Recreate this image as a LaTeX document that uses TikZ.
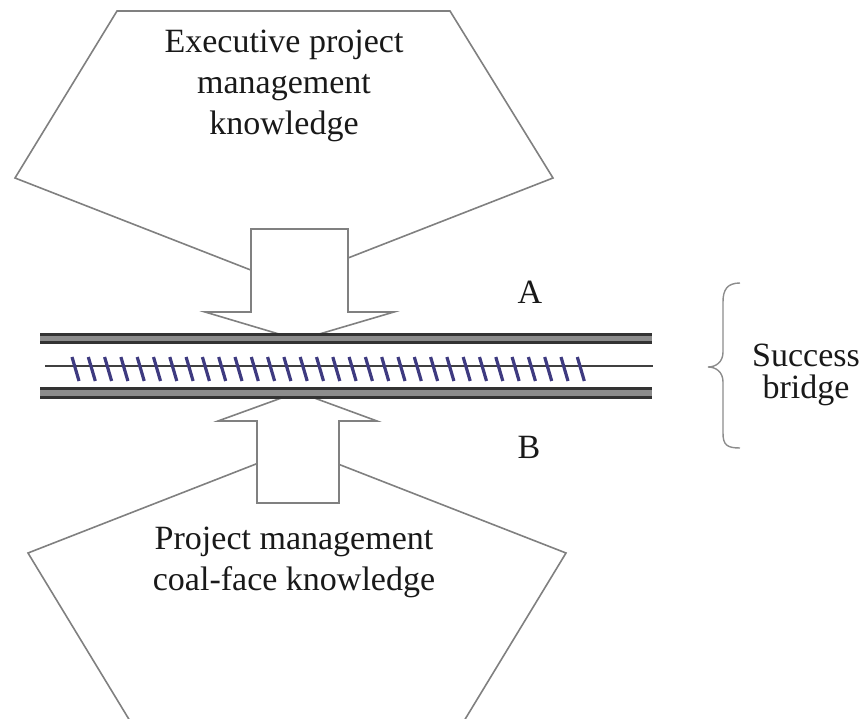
\documentclass[tikz,border=0pt]{standalone}
\usepackage{fontspec}
\setmainfont{Liberation Serif}
\definecolor{hatchnavy}{RGB}{62,58,128}
\begin{document}
\begin{tikzpicture}[x=1pt,y=-1pt,
  outline/.style={draw=black!50, line width=1.6pt, fill=white, line join=miter},
  label/.style={text=black!90, inner sep=0pt, font=\fontsize{34}{41}\selectfont, align=center},
  railedge/.style={draw=black!80, line width=2.2pt},
  hatch/.style={draw=hatchnavy, line width=3.2pt}]
\useasboundingbox (0,0) rectangle (868,719);
\clip (0,0) rectangle (868,719);

% upper pentagon and its downward arrow
\path[outline] (117,11) -- (450,11) -- (553,178) -- (284,283) -- (15,178) -- cycle;
\path[outline] (251,229) -- (348,229) -- (348,312) -- (394,312) -- (299,340)
  -- (205,312) -- (251,312) -- cycle;
\node[label] (exec) at (284,86) {Executive project\\management\\knowledge};

% lower pentagon and its upward arrow
\path[outline] (297,448) -- (566,553) -- (464,721) -- (130,721) -- (28,553) -- cycle;
\path[outline] (257,503) -- (339,503) -- (339,421) -- (377,421) -- (298,392)
  -- (218,421) -- (257,421) -- cycle;
\node[label] (coal) at (294,562) {Project management\\coal-face knowledge};

% the bridge: two rails and the hatched middle line
\fill[black!45] (40,334) rectangle (652,343);
\draw[railedge] (40,334.5) -- (652,334.5);
\draw[railedge] (40,342.5) -- (652,342.5);
\fill[black!45] (40,388) rectangle (652,398);
\draw[railedge] (40,388.5) -- (652,388.5);
\draw[railedge] (40,397.5) -- (652,397.5);
\draw[black!75, line width=1.5pt] (45,366) -- (653,366);
\foreach \i in {0,...,31}{
  \draw[hatch] ({72+16.3*\i},357) -- ({79+16.3*\i},381);
}

% side labels
\node[label] (a) at (530,292) {A};
\node[label] (b) at (529,447) {B};

% brace and its caption
\coordinate (bt) at (740,283);
\coordinate (bb) at (740,448);
\draw[black!45, line width=1.4pt] (bt) .. controls (727,283) and (723,290) .. (723,302)
  -- (723,352) .. controls (723,362) and (716,367) .. (708,367)
  .. controls (716,367) and (723,372) .. (723,382)
  -- (723,433) .. controls (723,445) and (727,448) .. (bb);
\node[label, font=\fontsize{34}{32}\selectfont] (succ) at (806,375) {Success\\bridge};
\end{tikzpicture}
\end{document}
